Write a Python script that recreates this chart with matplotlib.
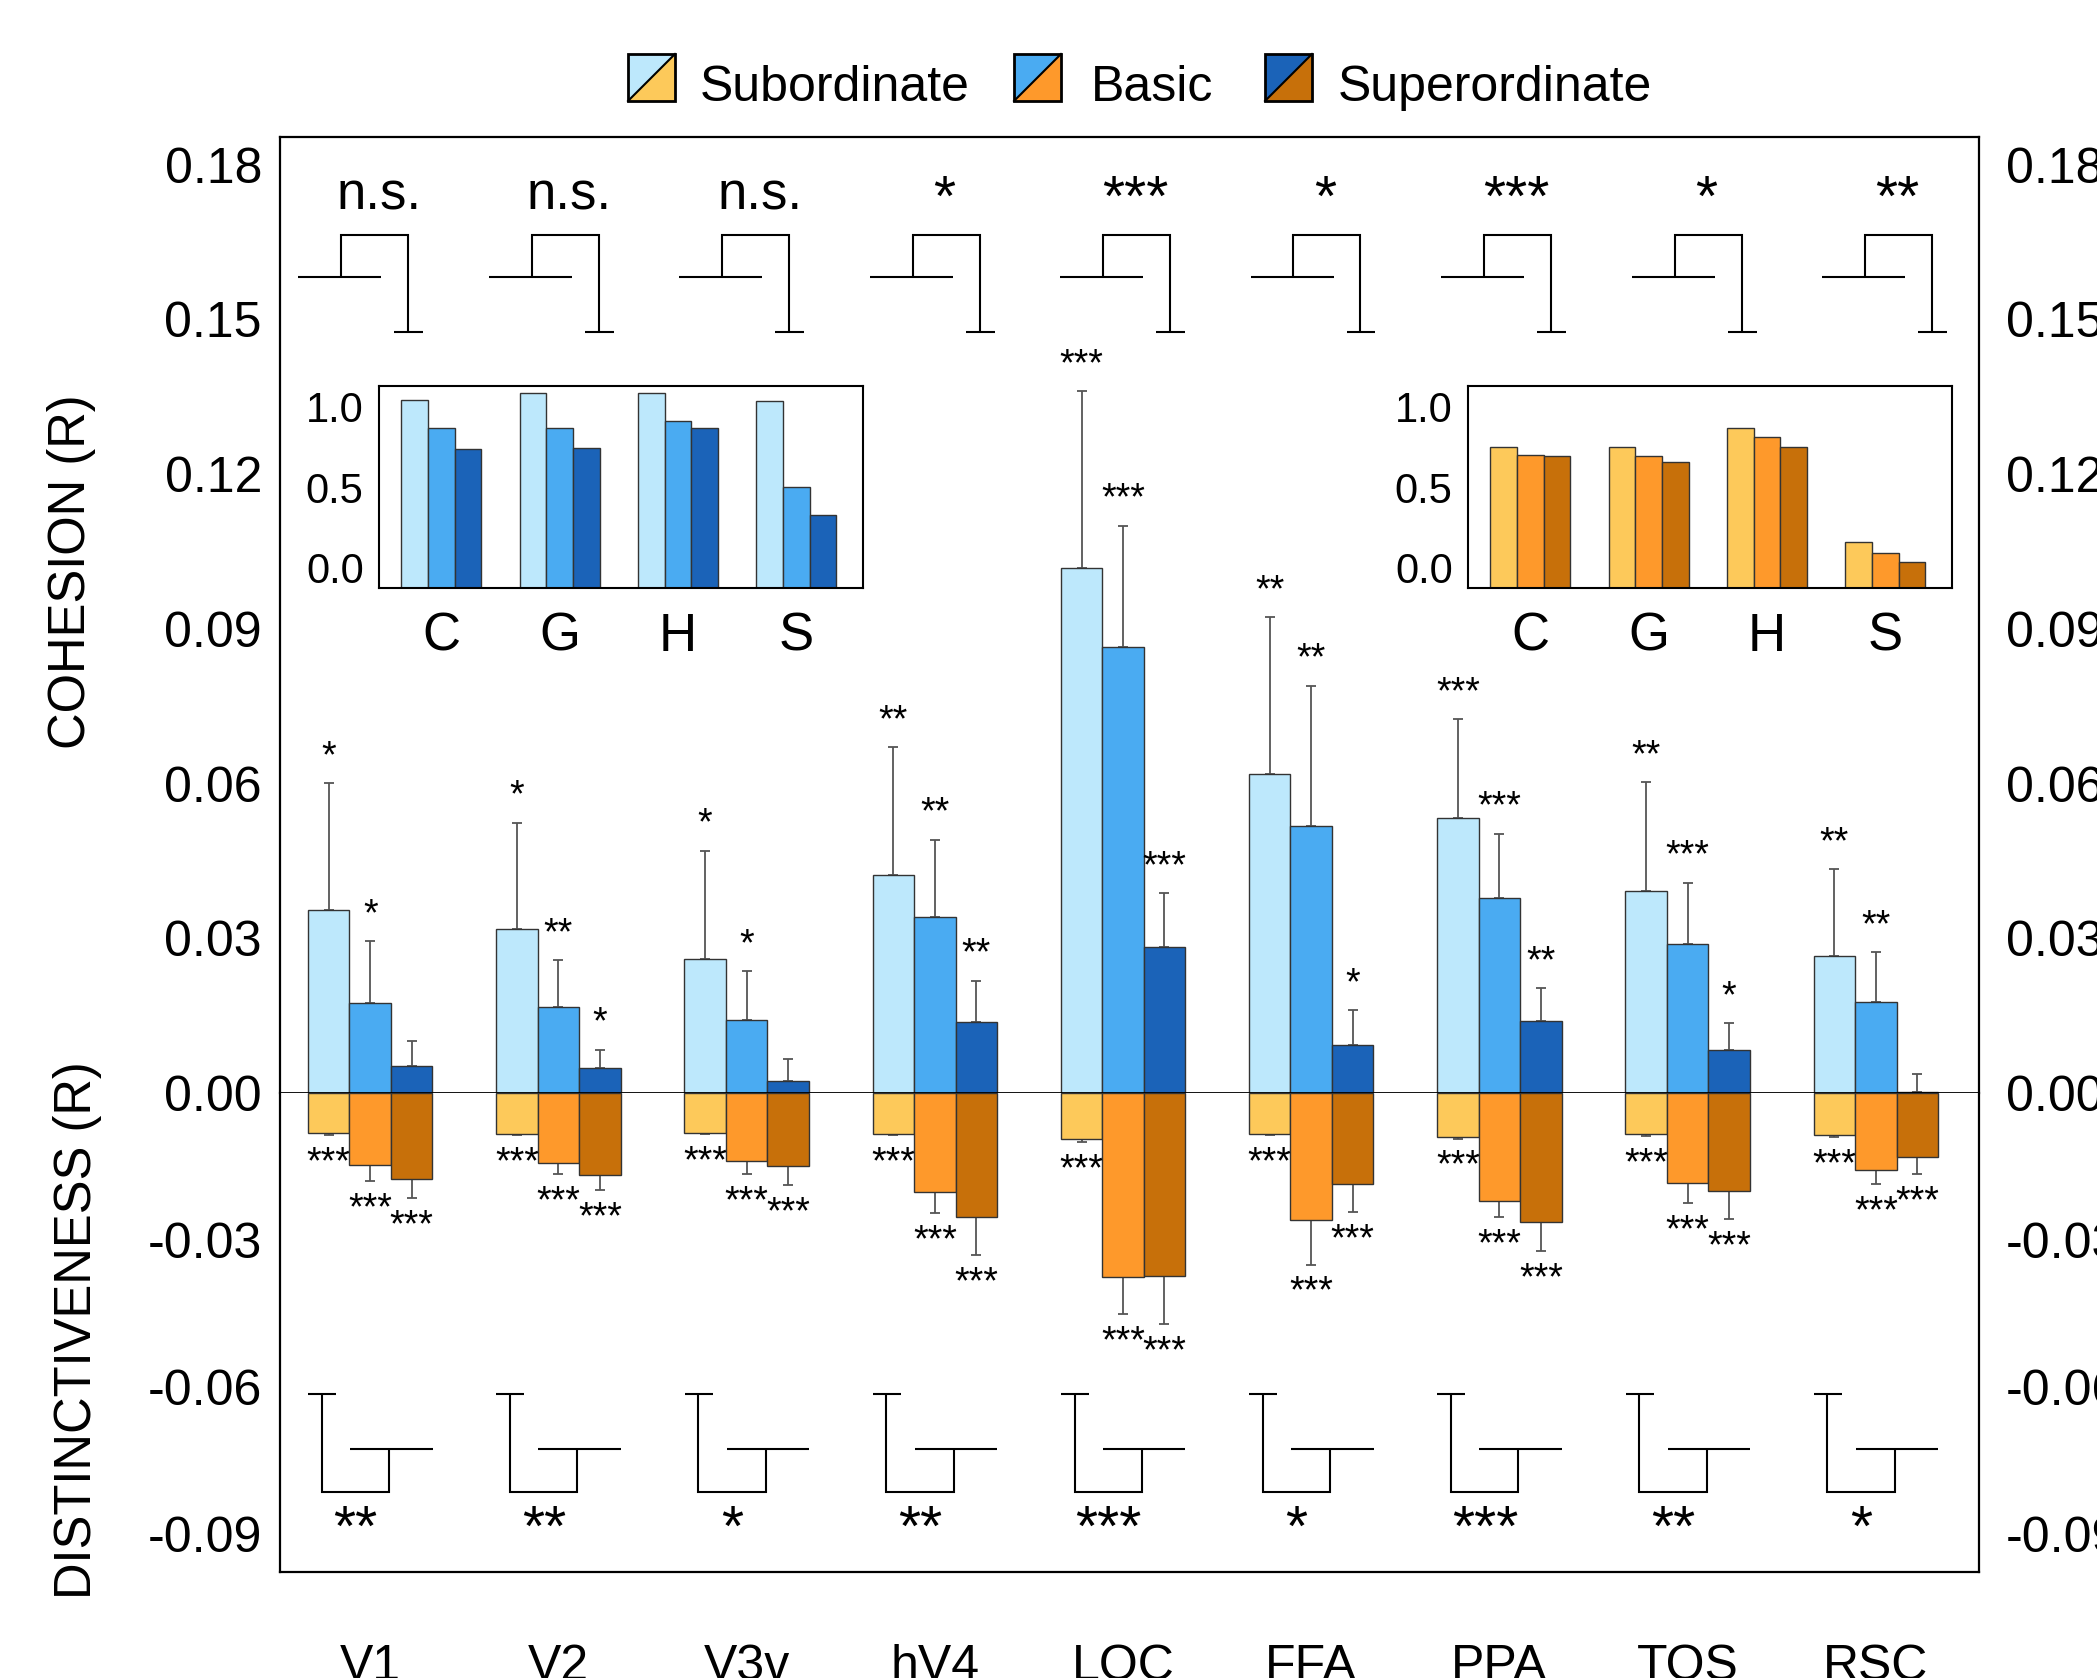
import matplotlib
matplotlib.use('Agg')
import matplotlib.pyplot as plt
from matplotlib.patches import Rectangle, Polygon
from matplotlib.lines import Line2D
from matplotlib.transforms import blended_transform_factory
import numpy as np

plt.rcParams['font.family'] = ['Liberation Sans', 'DejaVu Sans']
plt.rcParams['axes.unicode_minus'] = False

# ---------------- data ----------------
rois = ['V1', 'V2', 'V3v', 'hV4', 'LOC', 'FFA', 'PPA', 'TOS', 'RSC']
levels = ['Subordinate', 'Basic', 'Superordinate']

# cohesion (R): bar heights and upper ends of the error bars
coh_sub = [0.0354, 0.0318, 0.0259, 0.0422, 0.1018, 0.0618, 0.0534, 0.0391, 0.0266]
coh_bas = [0.0174, 0.0166, 0.0142, 0.0342, 0.0864, 0.0518, 0.0378, 0.0288, 0.0176]
coh_sup = [0.0053, 0.0048, 0.0024, 0.0138, 0.0283, 0.0094, 0.0140, 0.0084, 0.0002]
coh_sub_err = [0.0601, 0.0524, 0.0470, 0.0671, 0.1361, 0.0923, 0.0725, 0.0603, 0.0434]
coh_bas_err = [0.0294, 0.0258, 0.0236, 0.0491, 0.1100, 0.0790, 0.0503, 0.0408, 0.0273]
coh_sup_err = [0.0100, 0.0084, 0.0065, 0.0218, 0.0387, 0.0160, 0.0204, 0.0136, 0.0037]

# distinctiveness (R): bar heights and lower ends of the error bars
dis_sub = [-0.0081, -0.0083, -0.0081, -0.0083, -0.0094, -0.0083, -0.0090, -0.0083, -0.0086]
dis_bas = [-0.0146, -0.0143, -0.0138, -0.0202, -0.0376, -0.0260, -0.0220, -0.0184, -0.0158]
dis_sup = [-0.0176, -0.0168, -0.0148, -0.0253, -0.0373, -0.0186, -0.0264, -0.0199, -0.0131]
dis_sub_err = [-0.0085, -0.0086, -0.0084, -0.0086, -0.0101, -0.0086, -0.0093, -0.0088, -0.0089]
dis_bas_err = [-0.0179, -0.0165, -0.0165, -0.0245, -0.0451, -0.0350, -0.0254, -0.0224, -0.0185]
dis_sup_err = [-0.0215, -0.0198, -0.0188, -0.0330, -0.0471, -0.0243, -0.0322, -0.0258, -0.0166]

coh_sig_sub = ['*', '*', '*', '**', '***', '**', '***', '**', '**']
coh_sig_bas = ['*', '**', '*', '**', '***', '**', '***', '***', '**']
coh_sig_sup = ['', '*', '', '**', '***', '*', '**', '*', '']
dis_sig_sub = ['***'] * 9
dis_sig_bas = ['***'] * 9
dis_sig_sup = ['***'] * 9

coh_interaction = ['n.s.', 'n.s.', 'n.s.', '*', '***', '*', '***', '*', '**']
dis_interaction = ['**', '**', '*', '**', '***', '*', '***', '**', '*']

ytick_top = [0.0, 0.03, 0.06, 0.09, 0.12, 0.15, 0.18]
ytick_top_labels = ['0.00', '0.03', '0.06', '0.09', '0.12', '0.15', '0.18']
ytick_bot = [-0.03, -0.06, -0.09]
ytick_bot_labels = ['-0.03', '-0.06', '-0.09']

# insets
inset_cats = ['C', 'G', 'H', 'S']
inset_coh_sub = [1.044, 1.085, 1.085, 1.039]
inset_coh_bas = [0.871, 0.871, 0.913, 0.500]
inset_coh_sup = [0.740, 0.743, 0.871, 0.325]
inset_dis_sub = [0.749, 0.749, 0.871, 0.157]
inset_dis_bas = [0.701, 0.697, 0.815, 0.092]
inset_dis_sup = [0.697, 0.655, 0.751, 0.036]
inset_ticks = [0.0, 0.5, 1.0]
inset_tick_labels = ['0.0', '0.5', '1.0']

# ---------------- style / layout ----------------
blues = ['#BDE8FC', '#4AABF2', '#1B63B8']
oranges = ['#FDC95A', '#FE992B', '#C7700A']
EDGE = '#333333'
ERRC = '#555555'

W_PX, H_PX = 2097, 1678
DPI = 100
L, R = 280, 1979          # frame left / right (px)
T, Z, B = 137, 1093, 1572  # frame top, zero line, frame bottom (px)
POS_SCALE = 5158.0         # px per unit (cohesion)
NEG_SCALE = 4900.0         # px per unit (distinctiveness)
X0, DX = 370.2, 188.2      # px of first group centre, px per group
BAR_W = 41.5 / DX


def fx(px):
    return px / W_PX


def fy(py):
    return 1 - py / H_PX


def xd(px):
    return (px - X0) / DX


def ytop(py):
    return (Z - py) / POS_SCALE


def ybot(py):
    return -(py - Z) / NEG_SCALE


fig = plt.figure(figsize=(W_PX / DPI, H_PX / DPI), dpi=DPI)
fig.patch.set_facecolor('white')

ax_top = fig.add_axes([fx(L), fy(Z), fx(R) - fx(L), fy(T) - fy(Z)])
ax_bot = fig.add_axes([fx(L), fy(B), fx(R) - fx(L), fy(Z) - fy(B)])

xlim = (xd(L), xd(R))
for ax in (ax_top, ax_bot):
    ax.set_xlim(*xlim)
    ax.set_xticks([])
    for s in ax.spines.values():
        s.set_linewidth(1.6)
        s.set_color('black')
ax_top.set_ylim(0, ytop(T))
ax_bot.set_ylim(ybot(B), 0)
ax_top.spines['bottom'].set_linewidth(1.3)
ax_bot.spines['top'].set_visible(False)

x = np.arange(len(rois))

# y tick labels left & right
for ax, ticks, labs in ((ax_top, ytick_top, ytick_top_labels), (ax_bot, ytick_bot, ytick_bot_labels)):
    ax.set_yticks(ticks)
    ax.set_yticklabels(labs, fontsize=36)
    ax.tick_params(axis='y', length=0, pad=13)
    sec = ax.secondary_yaxis('right')
    sec.set_yticks(ticks)
    sec.set_yticklabels(labs, fontsize=36)
    sec.tick_params(axis='y', length=0, pad=19.5)
    sec.spines['right'].set_visible(False)


def draw_bars(ax, vals_list, err_list, sig_list, colors, positive):
    for k, (vals, errs, sigs, col) in enumerate(zip(vals_list, err_list, sig_list, colors)):
        vals = np.array(vals)
        errs = np.array(errs)
        xs = x + (k - 1) * BAR_W
        ax.bar(xs, vals, BAR_W, color=col, edgecolor=EDGE, linewidth=1.0, zorder=2)
        if positive:
            yerr = [np.zeros_like(vals), errs - vals]
        else:
            yerr = [vals - errs, np.zeros_like(vals)]
        ax.errorbar(xs, vals, yerr=yerr, fmt='none', ecolor=ERRC, elinewidth=1.3,
                    capsize=3.5, capthick=1.3, zorder=1)
        for xi, e, s in zip(xs, errs, sigs):
            if not s:
                continue
            off = 11.5 if positive else -27.5
            ax.annotate(s, xy=(xi, e), xytext=(0, off), textcoords='offset points',
                        ha='center', va='baseline', fontsize=27, zorder=3,
                        annotation_clip=False)


draw_bars(ax_top, [coh_sub, coh_bas, coh_sup], [coh_sub_err, coh_bas_err, coh_sup_err],
          [coh_sig_sub, coh_sig_bas, coh_sig_sup], blues, True)
draw_bars(ax_bot, [dis_sub, dis_bas, dis_sup], [dis_sub_err, dis_bas_err, dis_sup_err],
          [dis_sig_sub, dis_sig_bas, dis_sig_sup], oranges, False)

# top interaction brackets (uniform spacing)
LW_BR = 1.5
for i, lab in enumerate(coh_interaction):
    sx = 298 + 190.5 * i
    ax_top.plot([xd(sx), xd(sx + 83)], [ytop(277)] * 2, color='k', lw=LW_BR, solid_capstyle='butt')
    ax_top.plot([xd(sx + 43), xd(sx + 43), xd(sx + 110), xd(sx + 110)],
                [ytop(277), ytop(235), ytop(235), ytop(332)], color='k', lw=LW_BR,
                solid_capstyle='butt', solid_joinstyle='miter')
    ax_top.plot([xd(sx + 96), xd(sx + 125)], [ytop(332)] * 2, color='k', lw=LW_BR, solid_capstyle='butt')
    if lab == 'n.s.':
        ax_top.text(xd(sx + 81), ytop(210), lab, ha='center', va='baseline', fontsize=38)
    else:
        ax_top.text(xd(sx + 75), ytop(216), lab, ha='center', va='baseline', fontsize=41)

# bottom interaction brackets (follow group centres)
for i, lab in enumerate(dis_interaction):
    cx = X0 + DX * i
    ax_bot.plot([xd(cx - 62), xd(cx - 34)], [ybot(1394)] * 2, color='k', lw=LW_BR, solid_capstyle='butt')
    ax_bot.plot([xd(cx - 48.5), xd(cx - 48.5), xd(cx + 19), xd(cx + 19)],
                [ybot(1394), ybot(1492), ybot(1492), ybot(1449)], color='k', lw=LW_BR,
                solid_capstyle='butt', solid_joinstyle='miter')
    ax_bot.plot([xd(cx - 20), xd(cx + 62.5)], [ybot(1449)] * 2, color='k', lw=LW_BR, solid_capstyle='butt')
    ax_bot.text(xd(cx - 14.5), ybot(1546), lab, ha='center', va='baseline', fontsize=41)

# x category labels at the very bottom
trans = blended_transform_factory(ax_bot.transData, fig.transFigure)
for i, r in enumerate(rois):
    ax_bot.text(i, fy(1680), r, transform=trans, ha='center', va='baseline', fontsize=36,
                clip_on=False)

# y axis labels
fig.text(fx(72), fy(572), 'COHESION (R)', rotation=90, ha='center', va='center', fontsize=36.5)
fig.text(fx(77.5), fy(1330), 'DISTINCTIVENESS (R)', rotation=90, ha='center', va='center', fontsize=36.5)

# insets
INS_W = 26.7 / 118.3
INS_YMIN = -20.5 / 160.5
INS_YMAX = 181.5 / 160.5


def draw_inset(left_px, vals_list, colors):
    ax = fig.add_axes([fx(left_px), fy(588), fx(484), fy(386) - fy(588)])
    ax.set_facecolor('white')
    xi = np.arange(len(inset_cats))
    for k, (vals, col) in enumerate(zip(vals_list, colors)):
        vals = np.array(vals)
        ax.bar(xi + (k - 1) * INS_W, vals - INS_YMIN, INS_W, bottom=INS_YMIN, color=col,
               edgecolor=EDGE, linewidth=1.0)
    ax.set_xlim(-62.4 / 118.3, (484 - 62.4) / 118.3)
    ax.set_ylim(INS_YMIN, INS_YMAX)
    ax.set_yticks(inset_ticks)
    ax.set_yticklabels(inset_tick_labels, fontsize=30)
    ax.set_xticks(xi)
    ax.set_xticklabels(inset_cats, fontsize=38)
    ax.tick_params(axis='y', length=0, pad=11)
    ax.tick_params(axis='x', length=0, pad=17)
    for s in ax.spines.values():
        s.set_linewidth(1.5)
    return ax


draw_inset(379, [inset_coh_sub, inset_coh_bas, inset_coh_sup], blues)
draw_inset(1468, [inset_dis_sub, inset_dis_bas, inset_dis_sup], oranges)

# legend (split patches)
leg_patch_x = [628, 1014, 1265]
leg_text_x = [700, 1091, 1338]
for k, lab in enumerate(levels):
    x0, x1 = fx(leg_patch_x[k]), fx(leg_patch_x[k] + 47)
    y0, y1 = fy(101), fy(54)
    fig.add_artist(Polygon([(x0, y0), (x0, y1), (x1, y1)], closed=True, transform=fig.transFigure,
                           facecolor=blues[k], edgecolor='none'))
    fig.add_artist(Polygon([(x0, y0), (x1, y1), (x1, y0)], closed=True, transform=fig.transFigure,
                           facecolor=oranges[k], edgecolor='none'))
    fig.add_artist(Line2D([x0, x1], [y0, y1], transform=fig.transFigure, color='k', lw=1.5))
    fig.add_artist(Rectangle((x0, y0), x1 - x0, y1 - y0, transform=fig.transFigure,
                             facecolor='none', edgecolor='k', lw=2.0))
    fig.text(fx(leg_text_x[k]), fy(101), lab, ha='left', va='baseline', fontsize=36)

fig.savefig('out.png', dpi=DPI, facecolor='white')
